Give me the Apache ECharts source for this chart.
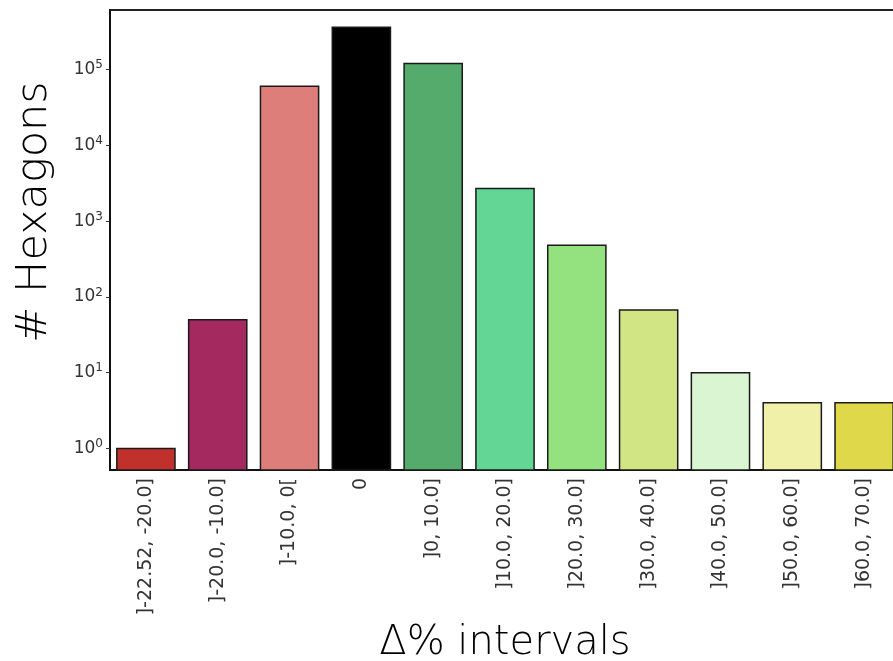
<!DOCTYPE html>
<html>
<head>
<meta charset="utf-8">
<script src="https://cdn.jsdelivr.net/npm/echarts@6/dist/echarts.min.js"></script>
<style>
  html, body { margin: 0; padding: 0; background: #fff; }
  #chart { width: 893px; height: 661px; }
</style>
</head>
<body>
<div id="chart"></div>
<script>
// Hexagon counts per change interval
const categories = [
  ']-22.52, -20.0]', ']-20.0, -10.0]', ']-10.0, 0[', '0', ']0, 10.0]',
  ']10.0, 20.0]', ']20.0, 30.0]', ']30.0, 40.0]', ']40.0, 50.0]',
  ']50.0, 60.0]', ']60.0, 70.0]'
];
const counts = [1, 50, 60000, 360000, 120000, 2700, 480, 67, 10, 4, 4];
const barColors = [
  '#c0312b', '#a3295f', '#dd7e7b', '#000000', '#55ab6b',
  '#63d594', '#93e27f', '#d1e585', '#d9f5d2', '#f1f0a9', '#dfd84b'
];

// log axis range; bars rise from the bottom of the axis
const yMin = 0.52;
const yMax = 610000;

const chart = echarts.init(document.getElementById('chart'), null, { renderer: 'canvas' });

chart.setOption({
  animation: false,
  backgroundColor: '#ffffff',
  grid: {
    left: 110, top: 10, width: 790, height: 460,
    outerBoundsMode: 'none', containLabel: false,
    show: true, borderColor: '#222', borderWidth: 2,
    backgroundColor: 'transparent'
  },
  graphic: [{
    type: 'text',
    x: 35, y: 212,
    rotation: Math.PI / 2,
    style: {
      text: '# Hexagons',
      fontFamily: 'DejaVu Sans', fontWeight: 200, fontSize: 43,
      fill: '#000', align: 'center', verticalAlign: 'middle'
    }
  }],
  xAxis: {
    type: 'category',
    data: categories,
    name: 'Δ% intervals',
    nameLocation: 'middle',
    nameGap: 150,
    nameTextStyle: { fontFamily: 'DejaVu Sans', fontWeight: 200, fontSize: 40, color: '#000' },
    axisLine: { lineStyle: { color: '#111', width: 2 } },
    axisTick: { alignWithLabel: true, length: 4, lineStyle: { color: '#333' } },
    axisLabel: {
      rotate: 90, interval: 0, margin: 8,
      fontFamily: 'DejaVu Sans', fontSize: 19, color: '#333'
    },
    splitLine: { show: false }
  },
  yAxis: {
    type: 'log',
    logBase: 10,
    min: yMin,
    max: yMax,
    axisLine: { show: true, lineStyle: { color: '#111', width: 2 } },
    axisTick: { show: true, length: 4, lineStyle: { color: '#333' } },
    minorTick: { show: false },
    splitLine: { show: false },
    axisLabel: {
      showMinLabel: false, showMaxLabel: false,
      margin: 7,
      formatter: function (v) {
        return '{b|10}{s|' + Math.round(Math.log10(v)) + '}';
      },
      rich: {
        b: { fontFamily: 'DejaVu Sans', fontSize: 17, color: '#333' },
        s: { fontFamily: 'DejaVu Sans', fontSize: 12, color: '#333', verticalAlign: 'bottom', padding: [0, 0, 9, 0] }
      }
    }
  },
  series: [{
    type: 'custom',
    encode: { x: 0, y: 1 },
    data: counts.map((v, i) => [i, v]),
    renderItem: function (params, api) {
      const idx = api.value(0);
      const top = api.coord([idx, api.value(1)]);
      const base = api.coord([idx, yMin]);
      const w = api.size([1, 1])[0] * 0.81;
      return {
        type: 'rect',
        shape: { x: top[0] - w / 2, y: top[1], width: w, height: base[1] - top[1] },
        style: { fill: barColors[params.dataIndex], stroke: '#1a1a1a', lineWidth: 1.5 }
      };
    }
  }]
});
</script>
</body>
</html>
